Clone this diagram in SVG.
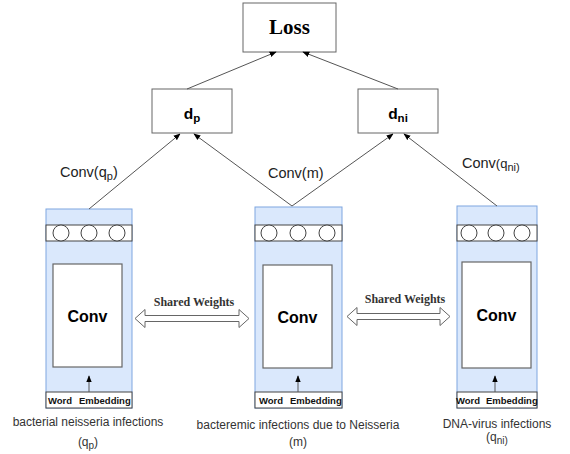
<svg xmlns="http://www.w3.org/2000/svg" width="570" height="454" viewBox="0 0 570 454">
<defs>
<marker id="ah" viewBox="0 0 10 10" refX="9" refY="5" markerWidth="7" markerHeight="7" orient="auto" markerUnits="userSpaceOnUse">
<path d="M0,1 L10,5 L0,9 Z" fill="#000"/>
</marker>
<style>
.box{fill:#fff;stroke:#666;stroke-width:1}
.col{fill:#dae8fc;stroke:#7ea6e0;stroke-width:1}
.band{fill:#fff;stroke:#444;stroke-width:1}
.circ{fill:#fff;stroke:#444;stroke-width:1}
.inner{fill:#fff;stroke:#666;stroke-width:1.2}
.emb{fill:#fff;stroke:#444;stroke-width:1}
.conn{fill:none;stroke:#555;stroke-width:1;marker-end:url(#ah)}
.dbl{fill:#fff;stroke:#666;stroke-width:1}
.sans{font-family:"Liberation Sans",Arial,sans-serif}
.serif{font-family:"Liberation Serif","Times New Roman",serif}
.lbl{font-family:"Liberation Sans",Arial,sans-serif;font-size:14.5px;fill:#222}
.cap{font-family:"Liberation Sans",Arial,sans-serif;font-size:12px;fill:#333;text-anchor:middle}
.embt{font-family:"Liberation Sans",Arial,sans-serif;font-size:9.5px;font-weight:bold;fill:#111}
.convt{font-family:"Liberation Sans",Arial,sans-serif;font-size:16px;font-weight:bold;fill:#000;text-anchor:middle}
.sw{font-family:"Liberation Serif","Times New Roman",serif;font-size:12px;font-weight:bold;fill:#333;text-anchor:middle}
</style>
</defs>

<g id="loss">
<rect class="box" x="243" y="3" width="93" height="49"/>
<text class="serif" x="289.5" y="34" font-size="21" font-weight="bold" text-anchor="middle">Loss</text>
</g>

<g id="dp">
<rect class="box" x="152" y="89" width="80" height="44"/>
<text class="sans" x="192" y="119" font-size="15.5" font-weight="bold" text-anchor="middle">d<tspan font-size="11.5" dy="3">p</tspan></text>
</g>

<g id="dni">
<rect class="box" x="358" y="89" width="80" height="44"/>
<text class="sans" x="398" y="119" font-size="15.5" font-weight="bold" text-anchor="middle">d<tspan font-size="11.5" dy="3">ni</tspan></text>
</g>

<g id="col-left">
<rect class="col" x="46" y="209" width="86" height="199"/>
<rect class="band" x="46" y="225" width="86" height="16"/>
<circle class="circ" cx="61" cy="233" r="8"/>
<circle class="circ" cx="89" cy="233" r="8"/>
<circle class="circ" cx="117" cy="233" r="8"/>
<rect class="inner" x="53" y="264" width="69" height="103"/>
<text class="convt" x="87.5" y="322">Conv</text>
<rect class="emb" x="46" y="392" width="86" height="16"/>
<text class="embt" x="48" y="404">Word</text>
<text class="embt" x="79" y="404">Embedding</text>
</g>

<g id="col-mid">
<rect class="col" x="255" y="207" width="87" height="201"/>
<rect class="band" x="255" y="225" width="87" height="16"/>
<circle class="circ" cx="269" cy="233" r="8"/>
<circle class="circ" cx="298" cy="233" r="8"/>
<circle class="circ" cx="327" cy="233" r="8"/>
<rect class="inner" x="263" y="265" width="69" height="103"/>
<text class="convt" x="297.5" y="323">Conv</text>
<rect class="emb" x="255" y="392" width="87" height="16"/>
<text class="embt" x="259" y="404">Word</text>
<text class="embt" x="290" y="404">Embedding</text>
</g>

<g id="col-right">
<rect class="col" x="457" y="206" width="80" height="202"/>
<rect class="band" x="457" y="225" width="80" height="16"/>
<circle class="circ" cx="469" cy="233" r="8"/>
<circle class="circ" cx="496" cy="233" r="8"/>
<circle class="circ" cx="522" cy="233" r="8"/>
<rect class="inner" x="462" y="262" width="69" height="106"/>
<text class="convt" x="496.5" y="321">Conv</text>
<rect class="emb" x="457" y="392" width="80" height="16"/>
<text class="embt" x="456" y="404">Word</text>
<text class="embt" x="486" y="404">Embedding</text>
</g>

<g id="shared-left">
<path class="dbl" d="M135,318.5 L145,309.5 L145,315.5 L239,315.5 L239,309.5 L249,318.5 L239,327.5 L239,321.5 L145,321.5 L145,327.5 Z"/>
<text class="sw" x="194" y="306">Shared Weights</text>
</g>

<g id="shared-right">
<path class="dbl" d="M347,316.5 L357,307.5 L357,313.5 L440,313.5 L440,307.5 L450,316.5 L440,325.5 L440,319.5 L357,319.5 L357,325.5 Z"/>
<text class="sw" x="405" y="303">Shared Weights</text>
</g>

<g id="connectors">
<line class="conn" x1="187" y1="89" x2="276" y2="52"/>
<line class="conn" x1="398" y1="89" x2="303" y2="52"/>
<line class="conn" x1="89" y1="209" x2="180" y2="134"/>
<line class="conn" x1="292" y1="206" x2="194" y2="134"/>
<line class="conn" x1="292" y1="206" x2="393" y2="134"/>
<line class="conn" x1="497" y1="206" x2="404" y2="134"/>
<line class="conn" x1="89" y1="392" x2="89" y2="376"/>
<line class="conn" x1="298" y1="392" x2="298" y2="376"/>
<line class="conn" x1="495" y1="392" x2="495" y2="376"/>
</g>

<g id="labels">
<text class="lbl" x="60" y="177">Conv(q<tspan font-size="11" dy="3">p</tspan><tspan dy="-3">)</tspan></text>
<text class="lbl" x="268" y="178">Conv(m)</text>
<text class="lbl" x="462" y="168">Conv<tspan font-size="13">(q</tspan><tspan font-size="11" dy="3">ni)</tspan></text>
<text class="cap" x="88" y="426">bacterial neisseria infections</text>
<text class="cap" x="88" y="446" font-size="13">(q<tspan font-size="10" dy="3">p</tspan><tspan dy="-3">)</tspan></text>
<text class="cap" x="298" y="429" font-size="11.7">bacteremic infections due to Neisseria</text>
<text class="cap" x="298" y="446" font-size="13">(m)</text>
<text class="cap" x="497" y="428">DNA-virus infections</text>
<text class="cap" x="497" y="441" font-size="13">(q<tspan font-size="10" dy="3">ni)</tspan></text>
</g>
</svg>
